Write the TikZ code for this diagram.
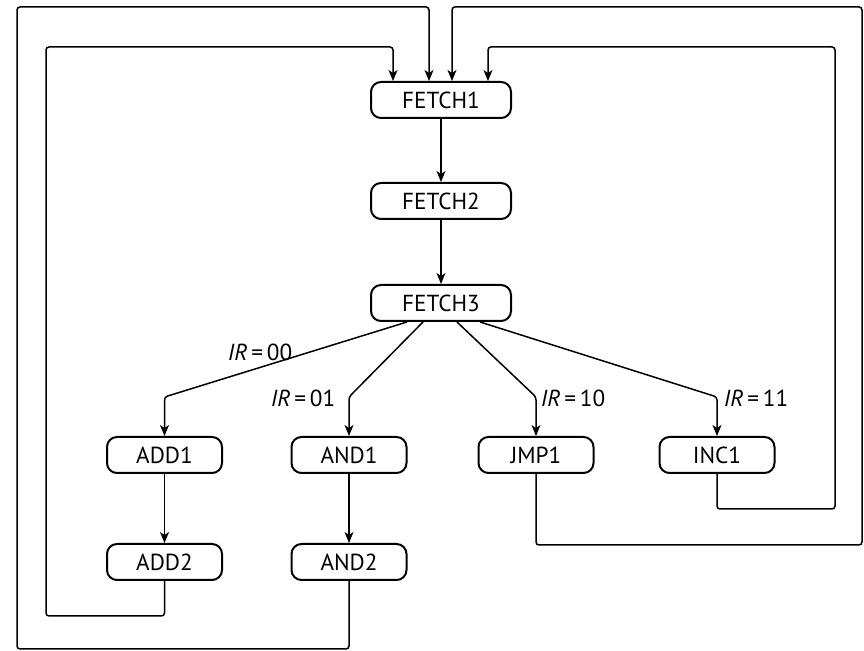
\documentclass[tikz,border=0pt]{standalone}
\usepackage{fontspec}
\setmainfont{PT Sans}
\usepackage{tikz}
\usetikzlibrary{arrows.meta, positioning, calc}

\begin{document}
\begin{tikzpicture}[x=0.5pt, y=-0.5pt,
    font=\fontsize{11.6}{13}\selectfont,
    state/.style={draw, line width=1pt, rounded corners=5pt, minimum height=18pt, inner sep=2pt},
    fetchbox/.style={state, minimum width=70pt},
    opbox/.style={state, minimum width=57.5pt},
    flow/.style={line width=0.75pt, rounded corners=1.5pt, -{Stealth[length=5.5pt, width=4.5pt, inset=1.5pt]}},
    cond/.style={inner sep=0pt}]
    \useasboundingbox (0,0) rectangle (864,651);

    % states
    \node[fetchbox] (fetch1) at (441,100) {FETCH1};
    \node[fetchbox] (fetch2) at (441,201) {FETCH2};
    \node[fetchbox] (fetch3) at (441,303) {FETCH3};

    \node[opbox] (add1) at (164.5,455) {ADD1};
    \node[opbox] (and1) at (349,455)   {AND1};
    \node[opbox] (jmp1) at (536,455)   {JMP1};
    \node[opbox] (inc1) at (717,455)   {INC1};
    \node[opbox] (add2) at (164.5,562) {ADD2};
    \node[opbox] (and2) at (349,562)   {AND2};

    % ports and levels
    \coordinate (in1) at ([xshift=-24pt]fetch1.north);
    \coordinate (in2) at ([xshift=-6pt]fetch1.north);
    \coordinate (in3) at ([xshift=5.5pt]fetch1.north);
    \coordinate (in4) at ([xshift=23.5pt]fetch1.north);
    \coordinate (out1) at ([xshift=-17pt]fetch3.south);
    \coordinate (out2) at ([xshift=-9pt]fetch3.south);
    \coordinate (out3) at ([xshift=8pt]fetch3.south);
    \coordinate (out4) at ([xshift=19.5pt]fetch3.south);
    \coordinate (split) at (0,397);
    \coordinate (inner) at (0,47);
    \coordinate (outer) at (0,7);

    \draw[flow] (fetch1) -- (fetch2);
    \draw[flow] (fetch2) -- (fetch3);

    \draw[flow] (out1) -- (add1.north |- split) -- (add1.north);
    \draw[flow] (out2) -- (and1.north |- split) -- (and1.north);
    \draw[flow] (out3) -- (jmp1.north |- split) -- (jmp1.north);
    \draw[flow] (out4) -- (inc1.north |- split) -- (inc1.north);

    \node[cond] (ir00) at (260,352) {\textit{IR}\,=\,00};
    \node[cond] (ir01) at (303,398) {\textit{IR}\,=\,01};
    \node[cond] (ir10) at (573,398) {\textit{IR}\,=\,10};
    \node[cond] (ir11) at (756,398) {\textit{IR}\,=\,11};

    \draw[flow] (add1) -- (add2);
    \draw[flow] (and1) -- (and2);

    % back to FETCH1
    \draw[flow] (add2.south) |- (46,616) |- (in1 |- inner) -- (in1);
    \draw[flow] (and2.south) |- (17,649) |- (in2 |- outer) -- (in2);
    \draw[flow] (jmp1.south) |- (862,545) |- (in3 |- outer) -- (in3);
    \draw[flow] (inc1.south) |- (835,509) |- (in4 |- inner) -- (in4);
\end{tikzpicture}
\end{document}
